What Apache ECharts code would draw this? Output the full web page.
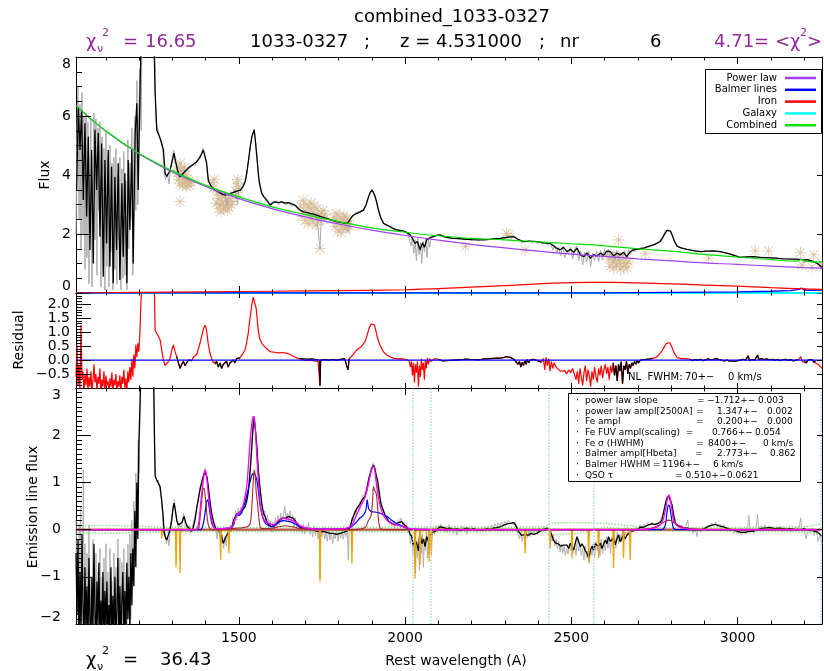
<!DOCTYPE html>
<html>
<head>
<meta charset="utf-8">
<script src="https://cdn.jsdelivr.net/npm/echarts@6.0.0/dist/echarts.min.js"></script>
<style>
  html, body { margin: 0; padding: 0; background: #ffffff; }
  #chart { width: 824px; height: 671px; }
</style>
</head>
<body>
<div id="chart"></div>
<script>
// ---------------------------------------------------------------
// Spectral decomposition of quasar 1033-0327 (z = 4.531)
// Three stacked panels sharing the rest-frame wavelength axis.
// ---------------------------------------------------------------
const X_MIN = 1010, X_MAX = 3254;

// axis ticks
const xMajorTicks = [1500, 2000, 2500, 3000];
const xMinorTicks = [1100, 1200, 1300, 1400, 1600, 1700, 1800, 1900, 2100, 2200, 2300, 2400,
                     2600, 2700, 2800, 2900, 3100, 3200];
const fluxTicks = [0, 2, 4, 6, 8];
const residTicks = [-0.5, 0, 0.5, 1.0, 1.5, 2.0];
const lineTicks = [-2, -1, 0, 1, 2, 3];

// ---- top panel: observed flux (smoothed) -------------------------
const fluxSmooth = [
 [1012,3.49],[1017,6.30],[1022,4.85],[1027,6.20],[1032,3.15],[1037,5.75],[1042,2.59],[1047,5.30],
 [1052,1.46],[1057,4.85],[1062,1.00],[1067,5.53],[1072,3.49],[1077,5.42],[1082,1.91],[1087,5.07],
 [1092,0.55],[1097,4.51],[1102,1.68],[1107,4.85],[1112,0.89],[1117,4.28],[1122,0.33],[1127,3.94],
 [1132,1.46],[1137,4.40],[1142,0.44],[1148,3.72],[1152,1.23],[1157,4.06],[1163,0.33],[1167,4.51],
 [1172,2.14],[1178,4.85],[1182,1.00],[1188,5.41],[1193,6.43],[1197,3.49],[1203,7.10],[1208,9.50],
 [1225,9.50],[1243,9.50],[1248,6.77],[1253,5.53],[1258,5.38],[1263,5.24],[1268,5.05],[1273,4.85],
 [1278,4.06],[1283,3.95],[1288,3.97],[1293,4.15],[1298,4.40],[1305,4.74],[1309,4.50],[1313,4.28],
 [1318,4.05],[1323,3.94],[1330,4.02],[1336,4.10],[1343,4.17],[1350,4.25],[1358,4.32],[1365,4.38],
 [1373,4.45],[1378,4.52],[1383,4.60],[1388,4.72],[1393,4.85],[1398,4.90],[1403,4.40],[1408,3.83],
 [1413,3.70],[1418,3.60],[1428,3.50],[1438,3.43],[1448,3.36],[1458,3.32],[1468,3.36],[1479,3.39],
 [1488,3.43],[1496,3.46],[1504,3.49],[1512,3.60],[1519,3.77],[1524,4.10],[1529,4.51],[1534,4.95],
 [1539,5.30],[1546,5.53],[1550,5.10],[1554,4.62],[1558,4.10],[1562,3.72],[1569,3.38],[1576,3.25],
 [1584,3.15],[1594,2.98],[1601,3.05],[1609,3.09],[1619,3.06],[1629,3.09],[1639,3.05],[1649,3.06],
 [1659,3.02],[1669,2.98],[1676,2.90],[1684,2.81],[1694,2.75],[1704,2.73],[1714,2.70],[1724,2.67],
 [1734,2.64],[1744,2.60],[1754,2.56],[1764,2.53],[1774,2.49],[1784,2.45],[1794,2.42],[1804,2.40],
 [1815,2.38],[1825,2.36],[1832,2.45],[1840,2.59],[1848,2.66],[1855,2.70],[1865,2.75],[1875,2.81],
 [1883,3.00],[1890,3.26],[1895,3.40],[1900,3.49],[1905,3.40],[1910,3.26],[1915,3.05],[1920,2.81],
 [1927,2.55],[1935,2.36],[1945,2.30],[1955,2.25],[1965,2.18],[1975,2.14],[1988,2.11],[2000,2.08],
 [2008,2.03],[2015,1.97],[2022,1.85],[2030,1.68],[2037,1.75],[2045,1.46],[2052,1.70],[2058,1.55],
 [2065,1.80],[2075,1.88],[2085,1.91],[2095,1.95],[2105,1.97],[2120,1.90],[2135,1.87],[2145,1.85],
 [2160,1.84],[2175,1.83],[2186,1.82],[2200,1.81],[2220,1.80],[2236,1.80],[2255,1.82],[2270,1.84],
 [2286,1.85],[2300,1.88],[2316,1.90],[2326,1.91],[2340,1.82],[2356,1.74],[2375,1.76],[2396,1.74],
 [2415,1.70],[2436,1.68],[2446,1.60],[2456,1.52],[2466,1.46],[2476,1.55],[2487,1.40],[2497,1.48],
 [2507,1.38],[2517,1.52],[2527,1.30],[2537,1.23],[2547,1.36],[2557,1.18],[2567,1.30],[2577,1.25],
 [2587,1.35],[2597,1.28],[2607,1.42],[2617,1.40],[2627,1.26],[2637,1.35],[2647,1.29],[2657,1.38],
 [2667,1.23],[2677,1.40],[2687,1.46],[2697,1.48],[2707,1.50],[2717,1.52],[2732,1.58],[2747,1.63],
 [2757,1.68],[2767,1.74],[2775,1.88],[2782,2.02],[2788,2.12],[2793,2.16],[2798,2.10],[2803,1.97],
 [2810,1.75],[2818,1.59],[2830,1.53],[2848,1.48],[2868,1.44],[2888,1.40],[2908,1.42],[2928,1.43],
 [2948,1.40],[2968,1.35],[2988,1.28],[3008,1.21],[3028,1.22],[3048,1.23],[3068,1.21],[3088,1.20],
 [3113,1.18],[3138,1.16],[3163,1.15],[3189,1.14],[3200,1.12],[3210,1.13],[3229,1.06],[3240,1.00],
 [3254,0.87]
];

// ---- top panel: observed flux (unsmoothed) -----------------------
const fluxRaw = [
 [1010,2.0],[1013,5.5],[1016,7.0],[1019,2.5],[1022,6.4],[1025,1.5],[1028,6.8],[1031,2.0],[1034,6.0],
 [1037,0.8],[1040,6.1],[1043,1.2],[1046,5.8],[1049,0.3],[1052,4.2],[1055,5.9],[1058,0.2],[1061,3.2],
 [1064,6.1],[1067,1.8],[1070,5.9],[1073,0.6],[1076,5.6],[1079,2.8],[1082,5.8],[1085,0.2],[1088,5.3],
 [1091,1.5],[1094,4.9],[1097,0.1],[1100,5.5],[1103,0.9],[1106,4.6],[1109,0.2],[1112,5.0],[1115,1.4],
 [1118,4.4],[1121,0.1],[1124,4.6],[1127,0.8],[1130,4.9],[1133,0.3],[1136,4.0],[1139,1.8],[1142,4.6],
 [1145,0.1],[1148,4.2],[1151,0.5],[1154,4.8],[1157,0.6],[1160,3.8],[1163,0.1],[1166,5.2],[1169,1.5],
 [1172,4.4],[1175,2.5],[1178,5.6],[1181,0.6],[1184,4.9],[1187,6.0],[1190,2.8],[1193,7.2],[1196,3.0],
 [1199,6.3],[1202,7.6],[1206,5.5],[1209,9.5],[1245,9.5],[1248,7.2],[1251,5.8],
 [1255,5.60],[1262,5.30],[1268,5.10],[1272,4.70],[1276,4.00],[1280,3.85],[1285,4.05],[1290,3.70],
 [1294,4.20],[1299,4.55],[1304,4.85],[1308,4.45],[1312,4.35],[1316,4.00],[1321,3.90],[1326,4.05],
 [1331,3.95],[1336,4.15],[1341,4.10],[1347,4.25],[1353,4.20],[1360,4.35],[1367,4.30],[1374,4.50],
 [1380,4.55],[1386,4.70],[1392,4.90],[1397,4.95],[1402,4.45],[1407,3.80],[1412,3.75],[1417,3.55],
 [1422,3.60],[1428,3.45],[1434,3.50],[1440,3.35],[1446,3.45],[1452,3.30],[1458,3.40],[1464,2.95],
 [1468,3.35],[1474,3.40],[1480,3.30],[1486,3.50],[1492,3.35],[1496,3.00],[1500,3.55],[1506,3.45],
 [1512,3.65],[1518,3.80],[1524,4.05],[1530,4.55],[1535,5.00],[1540,5.35],[1546,5.55],[1551,5.05],
 [1555,4.55],[1560,3.80],[1566,3.45],[1572,3.30],[1578,3.20],[1584,3.10],[1590,3.05],[1596,2.95],
 [1602,3.10],[1608,3.05],[1614,3.12],[1620,3.00],[1626,3.12],[1632,3.05],[1638,3.10],[1644,3.00],
 [1650,3.08],[1656,2.98],[1662,3.02],[1668,2.95],[1674,2.93],[1680,2.85],[1686,2.78],[1692,2.80],
 [1698,2.72],[1704,2.76],[1710,2.68],[1716,2.72],[1722,2.64],[1728,2.68],[1734,2.60],[1740,2.66],
 [1744,1.50],[1748,2.58],[1754,2.55],[1760,2.52],[1766,2.55],[1772,2.47],[1778,2.50],[1784,2.43],
 [1790,2.46],[1796,2.40],[1802,2.43],[1808,2.36],[1814,2.40],[1820,2.33],[1826,2.38],[1830,2.05],
 [1834,2.48],[1840,2.60],[1846,2.63],[1852,2.72],[1858,2.68],[1864,2.77],[1870,2.80],[1876,2.85],
 [1882,2.98],[1888,3.22],[1894,3.40],[1900,3.50],[1906,3.38],[1912,3.20],[1918,2.85],[1924,2.60],
 [1930,2.45],[1936,2.35],[1942,2.32],[1948,2.28],[1954,2.26],[1960,2.20],[1966,2.18],[1972,2.16],
 [1978,2.10],[1984,2.13],[1990,2.08],[1996,2.10],[2002,2.05],[2008,2.00],[2014,1.95],[2018,1.60],
 [2022,1.90],[2026,1.35],[2030,1.80],[2034,1.10],[2038,1.85],[2042,1.30],[2046,1.70],[2050,1.00],
 [2054,1.75],[2058,1.40],[2062,1.85],[2066,1.20],[2070,1.82],[2074,1.55],[2078,1.90],[2084,1.88],
 [2090,1.95],[2096,1.92],[2102,1.98],[2110,1.92],[2120,1.88],[2130,1.86],[2140,1.84],[2150,1.87],
 [2160,1.83],[2170,1.85],[2180,1.80],[2190,1.84],[2200,1.79],[2210,1.82],[2220,1.78],[2230,1.82],
 [2240,1.79],[2250,1.83],[2260,1.81],[2270,1.85],[2280,1.83],[2290,1.87],[2300,1.85],[2310,1.92],
 [2318,1.88],[2326,1.94],[2334,1.83],[2342,1.78],[2350,1.70],[2358,1.76],[2366,1.72],[2374,1.78],
 [2382,1.70],[2390,1.76],[2398,1.68],[2406,1.74],[2414,1.66],[2422,1.72],[2430,1.62],[2438,1.70],
 [2444,1.45],[2450,1.62],[2456,1.35],[2462,1.55],[2468,1.25],[2474,1.58],[2480,1.20],[2486,1.45],
 [2492,1.32],[2498,1.55],[2504,1.15],[2510,1.48],[2516,1.60],[2522,1.10],[2528,1.42],[2534,0.95],
 [2540,1.38],[2546,1.05],[2552,1.42],[2558,0.90],[2564,1.35],[2570,1.10],[2576,1.42],[2582,1.05],
 [2588,1.45],[2594,1.12],[2600,1.50],[2606,1.20],[2612,1.48],[2618,1.15],[2624,1.40],[2630,1.05],
 [2636,1.45],[2642,1.10],[2648,1.38],[2654,1.22],[2660,1.42],[2666,1.15],[2672,1.45],[2678,1.30],
 [2684,1.50],[2690,1.38],[2696,1.52],[2702,1.45],[2710,1.55],[2718,1.50],[2726,1.58],[2734,1.55],
 [2742,1.62],[2750,1.64],[2758,1.70],[2766,1.76],[2774,1.90],[2780,2.05],[2786,2.14],[2792,2.18],
 [2798,2.12],[2804,1.95],[2810,1.78],[2816,1.62],[2824,1.55],[2834,1.52],[2844,1.48],[2854,1.46],
 [2864,1.44],[2874,1.38],[2884,1.42],[2894,1.40],[2904,1.43],[2914,1.41],[2924,1.45],[2934,1.42],
 [2944,1.40],[2954,1.38],[2964,1.35],[2974,1.33],[2984,1.28],[2994,1.25],[3004,1.20],[3014,1.23],
 [3024,1.21],[3034,1.24],[3044,1.22],[3054,1.24],[3064,1.20],[3074,1.22],[3084,1.19],[3094,1.21],
 [3104,1.18],[3114,1.20],[3124,1.16],[3134,1.18],[3144,1.15],[3154,1.17],[3164,1.14],[3174,1.16],
 [3184,1.13],[3194,1.15],[3200,1.02],[3206,1.14],[3214,1.10],[3222,1.06],[3230,1.09],[3238,0.98],
 [3246,1.02],[3250,0.80],[3254,0.85]
];

// ---- top panel: flux points inside the continuum windows ---------
const windowFlux = [
 [1314,4.05],[1316,4.30],[1318,3.85],[1320,4.15],[1322,3.70],[1324,4.40],[1326,3.95],[1328,4.20],
 [1330,3.65],[1332,4.10],[1334,3.90],[1336,4.25],[1338,3.75],[1340,4.00],[1342,3.60],[1344,3.85],
 [1347,3.70],[1350,3.80],[1353,3.65],[1356,3.75],[1323,3.10],
 [1420,3.75],[1423,3.55],[1426,3.85],[1432,3.05],[1435,3.35],[1438,2.85],[1440,3.20],[1443,3.00],
 [1446,2.75],[1448,3.30],[1451,3.05],[1454,2.85],[1456,3.25],[1459,2.95],[1462,3.15],[1465,2.80],
 [1468,3.10],[1471,2.90],[1474,3.20],[1477,3.00],[1480,3.10],
 [1490,3.45],[1493,3.70],[1496,3.85],[1499,3.60],[1495,3.40],
 [1686,2.95],[1690,2.60],[1693,3.15],[1696,2.80],[1699,2.45],[1702,3.00],[1705,2.70],[1708,2.35],
 [1711,2.90],[1714,2.55],[1717,3.05],[1720,2.75],[1723,2.40],[1726,2.95],[1729,2.65],[1732,2.30],
 [1735,2.85],[1738,2.60],[1741,2.45],[1744,1.51],[1747,2.70],[1750,2.55],[1753,2.80],[1756,2.50],
 [1759,2.65],
 [1786,2.55],[1789,2.25],[1792,2.70],[1795,2.40],[1798,2.10],[1801,2.60],[1804,2.35],[1807,2.05],
 [1810,2.50],[1813,2.20],[1816,2.65],[1819,2.40],[1822,2.15],[1825,2.55],[1828,2.30],[1831,2.45],
 [1834,2.25],
 [2181,1.57],[2305,2.02],[2310,1.95],[2361,1.46],
 [2612,1.15],[2616,0.90],[2620,1.30],[2624,1.05],[2628,0.85],[2632,1.20],[2636,0.95],[2640,1.25],
 [2644,1.00],[2648,0.80],[2652,1.10],[2656,0.90],[2660,1.20],[2664,1.00],[2668,0.85],[2672,1.05],
 [2642,1.80],[2722,1.35],[2913,1.18],[3053,1.43],[3093,1.43],
 [3189,1.37],[3194,0.95],[3224,0.87],[3229,1.29],[3254,1.01]
];

// ---- top panel: continuum model components -----------------------
const powerLaw = [
 [1010,6.35],[1100,5.48],[1200,4.71],[1300,4.10],[1400,3.61],[1500,3.20],[1600,2.86],[1700,2.58],
 [1800,2.34],[1900,2.13],[2000,1.95],[2100,1.79],[2200,1.65],[2300,1.53],[2400,1.42],[2500,1.32],
 [2600,1.24],[2700,1.16],[2800,1.09],[2900,1.02],[3000,0.97],[3100,0.91],[3200,0.86],[3254,0.84]
];
const balmerCont = [
 [1010,0],[2600,0],[2800,0.02],[3000,0.04],[3100,0.06],[3160,0.08],[3185,0.12],[3192,0.17],
 [3200,0.11],[3215,0.09],[3254,0.10]
];
const ironCont = [
 [1010,0.00],[1200,0.02],[1400,0.04],[1600,0.06],[1800,0.08],[2000,0.11],[2100,0.15],[2200,0.20],
 [2300,0.25],[2400,0.31],[2500,0.35],[2560,0.36],[2620,0.36],[2700,0.34],[2800,0.31],[2900,0.27],
 [3000,0.23],[3100,0.18],[3200,0.14],[3254,0.12]
];
const galaxyCont = [[1010,0],[3254,0]];
const combinedCont = [
 [1010,6.35],[1100,5.49],[1200,4.73],[1300,4.14],[1400,3.65],[1500,3.26],[1600,2.92],[1700,2.66],
 [1800,2.42],[1900,2.21],[2000,2.06],[2100,1.94],[2200,1.85],[2300,1.80],[2400,1.73],[2500,1.67],
 [2600,1.60],[2700,1.50],[2800,1.42],[2900,1.31],[3000,1.22],[3100,1.13],[3180,1.08],[3192,1.14],
 [3205,1.07],[3254,1.05]
];

// ---- middle panel: residual ---------------------------------------
const residual = [
 [1010,-0.60],[1013,0.55],[1016,-0.90],[1019,-0.20],[1022,-1.10],[1025,1.25],[1028,-0.70],[1031,-0.40],
 [1034,-1.20],[1037,-0.50],[1040,-0.90],[1043,-0.30],[1046,-1.10],[1049,-0.60],[1052,-0.95],[1055,-0.40],
 [1058,-1.20],[1061,-0.70],[1064,-0.15],[1067,-0.80],[1070,-0.50],[1073,-1.10],[1076,-0.60],[1079,-0.85],
 [1082,-0.30],[1085,-1.20],[1088,-0.70],[1091,-0.95],[1094,-0.40],[1097,-1.15],[1100,-0.55],[1103,-0.90],
 [1106,-0.75],[1109,-1.20],[1112,-0.65],[1115,-0.95],[1118,-0.45],[1121,-1.15],[1124,-0.70],[1127,-0.90],
 [1130,-0.50],[1133,-1.10],[1136,-0.75],[1139,-0.95],[1142,-0.55],[1145,-1.15],[1148,-0.60],[1151,-0.85],
 [1154,-0.35],[1157,-1.00],[1160,-0.65],[1163,-1.15],[1166,-0.40],[1169,-0.80],[1172,-0.25],[1175,-0.70],
 [1178,0.05],[1181,-0.60],[1184,0.20],[1187,-0.30],[1190,0.55],[1193,0.10],[1196,0.60],[1199,0.30],
 [1202,0.90],[1205,2.00],[1208,2.60],[1243,2.60],[1246,2.30],[1248,1.08],[1253,0.95],[1258,0.85],
 [1263,0.72],[1268,0.35],[1273,0.00],[1278,-0.20],[1283,-0.24],[1288,-0.05],[1293,0.06],[1298,0.35],
 [1303,0.54],[1308,0.30],[1313,0.12],[1318,-0.10],[1323,-0.30],[1328,-0.15],[1333,-0.05],[1338,-0.20],
 [1343,-0.10],[1348,0.00],[1353,0.05],[1358,-0.02],[1363,0.10],[1368,0.08],[1373,0.20],[1378,0.40],
 [1383,0.60],[1388,0.85],[1393,1.10],[1398,1.25],[1401,1.15],[1404,0.95],[1408,0.55],[1413,0.25],
 [1418,0.05],[1423,-0.10],[1428,-0.15],[1433,-0.05],[1438,-0.25],[1443,-0.10],[1448,-0.30],[1453,-0.15],
 [1458,-0.20],[1463,-0.05],[1468,-0.25],[1473,-0.10],[1478,-0.15],[1483,0.00],[1488,-0.10],[1493,0.05],
 [1498,0.00],[1503,0.08],[1508,0.15],[1513,0.25],[1518,0.35],[1523,0.60],[1528,0.95],[1533,1.45],
 [1538,1.90],[1543,2.25],[1546,2.32],[1549,2.20],[1552,1.85],[1555,1.45],[1558,1.10],[1561,0.85],
 [1565,0.70],[1570,0.58],[1576,0.50],[1582,0.42],[1588,0.38],[1594,0.30],[1600,0.32],[1606,0.28],
 [1612,0.30],[1618,0.26],[1624,0.30],[1630,0.27],[1636,0.30],[1642,0.25],[1648,0.27],[1654,0.20],
 [1660,0.18],[1666,0.12],[1672,0.10],[1678,0.06],[1684,0.05],[1690,0.02],[1696,0.04],[1702,-0.02],
 [1708,0.03],[1714,0.00],[1720,0.04],[1726,-0.03],[1732,0.02],[1738,-0.05],[1742,0.00],[1744,-0.92],
 [1746,0.00],[1752,-0.03],[1758,0.02],[1764,-0.05],[1770,0.00],[1776,-0.04],[1782,0.02],[1788,-0.03],
 [1794,0.00],[1800,-0.02],[1806,0.03],[1812,-0.02],[1818,0.05],[1824,0.02],[1828,-0.35],[1832,0.05],
 [1838,0.12],[1844,0.20],[1850,0.30],[1856,0.38],[1862,0.42],[1868,0.48],[1874,0.55],[1880,0.68],
 [1886,0.90],[1892,1.15],[1898,1.30],[1903,1.37],[1908,1.25],[1913,1.00],[1918,0.75],[1924,0.55],
 [1930,0.40],[1936,0.28],[1942,0.20],[1948,0.15],[1954,0.12],[1960,0.08],[1966,0.06],[1972,0.05],
 [1978,0.04],[1984,0.02],[1990,0.05],[1996,0.00],[2002,0.02],[2008,-0.05],[2012,-0.02],[2016,-0.25],
 [2019,-0.05],[2022,-0.55],[2025,-0.10],[2028,-0.80],[2031,-0.15],[2034,-0.45],[2037,-0.05],[2040,-0.95],
 [2043,-0.20],[2046,-0.60],[2049,0.05],[2052,-0.35],[2055,-0.10],[2058,-0.70],[2061,0.00],[2064,-0.30],
 [2067,0.08],[2070,-0.15],[2074,0.05],[2078,-0.05],[2082,0.00],[2088,0.05],[2094,-0.02],[2100,0.03],
 [2106,0.00],[2112,-0.03],[2118,0.02],[2124,-0.02],[2130,0.03],[2136,-0.01],[2142,0.02],[2148,0.00],
 [2154,0.04],[2160,0.01],[2166,0.05],[2172,0.02],[2178,0.00],[2184,0.03],[2190,-0.02],[2196,0.02],
 [2202,-0.01],[2208,0.02],[2214,0.04],[2220,0.01],[2226,0.05],[2232,0.03],[2238,0.06],[2244,0.04],
 [2250,0.08],[2256,0.05],[2262,0.09],[2268,0.06],[2274,0.10],[2280,0.07],[2286,0.11],[2292,0.08],
 [2298,0.10],[2304,0.12],[2310,0.08],[2316,0.10],[2322,0.06],[2328,0.02],[2334,-0.05],[2340,-0.15],
 [2344,-0.05],[2348,-0.25],[2352,-0.08],[2356,-0.20],[2360,-0.02],[2364,-0.15],[2368,0.02],[2372,-0.10],
 [2376,0.00],[2380,-0.05],[2386,0.03],[2392,0.05],[2398,-0.02],[2404,0.02],[2410,-0.08],[2416,0.05],
 [2420,-0.35],[2424,0.10],[2428,-0.20],[2432,0.05],[2436,-0.40],[2440,-0.05],[2444,-0.30],[2448,-0.10],
 [2452,-0.20],[2456,-0.28],[2462,-0.35],[2468,-0.40],[2474,-0.45],[2480,-0.38],[2486,-0.50],[2492,-0.35],
 [2498,-0.45],[2504,-0.30],[2510,-0.55],[2514,-0.70],[2518,-0.40],[2522,-0.85],[2526,-0.30],[2530,-0.60],
 [2534,-0.90],[2538,-0.45],[2542,-0.20],[2546,-0.75],[2550,-0.35],[2554,-0.55],[2558,-0.95],[2562,-0.40],
 [2566,-0.70],[2570,-0.25],[2574,-0.60],[2578,-0.80],[2582,-0.30],[2586,-0.55],[2590,-0.20],[2594,-0.65],
 [2598,-0.35],[2602,-0.15],[2606,-0.50],[2610,-0.25],[2614,-0.70],[2618,-0.20],[2622,-0.45],[2626,-0.10],
 [2630,-0.55],[2634,-0.20],[2638,-0.75],[2642,-0.15],[2646,-0.40],[2650,-0.05],[2654,-0.85],[2658,-0.20],
 [2662,-0.35],[2666,-0.05],[2670,-0.50],[2674,-0.15],[2678,-0.30],[2682,-0.10],[2686,-0.20],[2690,-0.05],
 [2694,-0.15],[2698,-0.02],[2702,-0.10],[2708,0.00],[2714,-0.05],[2720,0.02],[2726,0.05],[2732,0.03],
 [2738,0.08],[2744,0.06],[2750,0.12],[2756,0.10],[2762,0.18],[2768,0.25],[2774,0.35],[2780,0.48],
 [2786,0.60],[2791,0.66],[2796,0.62],[2801,0.50],[2806,0.35],[2812,0.20],[2818,0.10],[2824,0.06],
 [2830,0.05],[2836,0.02],[2842,0.05],[2848,0.00],[2856,0.03],[2864,-0.02],[2872,0.02],[2880,0.00],
 [2888,0.03],[2896,-0.02],[2904,0.01],[2912,0.04],[2920,0.01],[2928,0.03],[2936,0.05],[2944,0.02],
 [2952,0.00],[2960,-0.03],[2968,0.00],[2976,-0.04],[2984,-0.02],[2992,-0.05],[3000,-0.02],[3008,0.00],
 [3016,0.03],[3024,0.00],[3032,0.15],[3036,-0.02],[3044,0.02],[3052,0.00],[3060,0.18],[3064,0.02],
 [3072,0.05],[3080,0.02],[3088,0.04],[3096,0.01],[3104,0.03],[3112,0.00],[3120,0.02],[3128,-0.02],
 [3136,0.01],[3144,0.03],[3152,-0.01],[3160,0.02],[3168,-0.03],[3176,0.00],[3184,0.02],[3190,0.12],
 [3194,-0.05],[3200,-0.02],[3206,-0.10],[3212,0.00],[3218,-0.05],[3224,0.02],[3230,-0.08],[3236,-0.02],
 [3242,-0.15],[3248,-0.10],[3254,-0.30]
];
// wavelength ranges used as continuum fitting windows
const fitWindows = [[1313,1360],[1425,1506],[1680,1836],[2098,2410],[2626,2745],[2855,3185],[3195,3240]];

// ---- bottom panel: emission-line flux -----------------------------
const lineSmooth = [
 [1010,-0.5],[1013,-1.8],[1016,-0.2],[1019,-2.4],[1022,-0.9],[1025,-2.2],[1028,-0.1],[1031,-1.6],
 [1034,-2.5],[1037,-0.8],[1040,-2.1],[1043,-1.2],[1046,-2.5],[1049,-0.6],[1052,-1.9],[1055,-2.4],
 [1058,-1.0],[1061,-2.2],[1064,-0.3],[1067,-1.7],[1070,-2.5],[1073,-1.1],[1076,-2.0],[1079,-0.7],
 [1082,-2.4],[1085,-1.5],[1088,-2.2],[1091,-0.9],[1094,-2.5],[1097,-1.3],[1100,-2.0],[1103,-1.1],
 [1106,-2.4],[1109,-1.6],[1112,-2.1],[1115,-0.8],[1118,-2.5],[1121,-1.4],[1124,-2.2],[1127,-1.0],
 [1130,-2.4],[1133,-1.7],[1136,-0.6],[1139,-2.3],[1142,-1.2],[1145,-2.5],[1148,-1.5],[1151,-0.9],
 [1154,-2.2],[1157,-1.3],[1160,-2.4],[1163,-0.7],[1166,-1.9],[1169,-1.0],[1172,-2.2],[1175,-0.5],
 [1178,-1.6],[1181,-0.4],[1184,-1.2],[1187,0.4],[1190,-0.8],[1193,1.0],[1196,-0.2],[1199,1.8],
 [1202,2.5],[1206,3.5],[1243,3.5],[1246,2.0],[1248,1.13],[1253,1.05],[1258,0.98],[1263,0.91],
 [1268,0.60],[1272,0.30],[1275,-0.05],[1278,-0.15],[1283,-0.22],[1288,-0.26],[1293,0.00],[1298,0.20],
 [1302,0.45],[1305,0.56],[1309,0.40],[1313,0.20],[1318,0.10],[1323,0.06],[1329,0.15],[1335,0.28],
 [1340,0.15],[1345,0.06],[1352,0.02],[1358,-0.04],[1363,0.05],[1368,0.20],[1373,0.45],[1378,0.65],
 [1383,0.84],[1388,1.00],[1393,1.13],[1397,1.22],[1400,1.26],[1404,1.12],[1408,0.91],[1413,0.60],
 [1418,0.35],[1423,0.18],[1428,0.06],[1433,0.00],[1438,-0.04],[1443,-0.04],[1448,-0.15],[1453,-0.29],
 [1458,-0.20],[1463,-0.12],[1468,-0.08],[1474,0.00],[1479,0.06],[1484,0.18],[1489,0.28],[1494,0.31],
 [1500,0.35],[1506,0.38],[1512,0.42],[1519,0.49],[1524,0.62],[1529,0.84],[1534,1.25],[1539,1.76],
 [1543,2.20],[1546,2.36],[1550,2.10],[1554,1.76],[1558,1.30],[1564,0.84],[1570,0.50],[1574,0.35],
 [1580,0.25],[1584,0.17],[1590,0.10],[1599,0.06],[1606,0.10],[1614,0.13],[1620,0.18],[1624,0.20],
 [1632,0.25],[1640,0.24],[1649,0.28],[1656,0.26],[1664,0.24],[1670,0.18],[1676,0.10],[1684,0.05],
 [1694,0.03],[1704,0.01],[1714,0.00],[1724,-0.01],[1734,-0.03],[1744,-0.05],[1754,-0.04],[1764,-0.06],
 [1774,-0.08],[1784,-0.08],[1794,-0.10],[1804,-0.08],[1810,-0.08],[1818,-0.05],[1825,-0.03],[1829,-0.01],
 [1835,0.06],[1840,0.20],[1845,0.30],[1850,0.38],[1855,0.45],[1860,0.49],[1865,0.55],[1870,0.62],
 [1875,0.66],[1880,0.72],[1885,0.85],[1890,1.05],[1895,1.18],[1900,1.30],[1905,1.37],[1909,1.30],
 [1913,1.15],[1917,1.05],[1922,0.80],[1926,0.60],[1930,0.49],[1936,0.38],[1940,0.30],[1945,0.24],
 [1950,0.18],[1955,0.15],[1960,0.13],[1965,0.13],[1970,0.10],[1975,0.12],[1980,0.15],[1985,0.16],
 [1990,0.17],[1995,0.12],[2000,0.08],[2005,0.06],[2010,0.00],[2015,-0.10],[2020,-0.15],[2025,-0.35],
 [2030,-0.22],[2035,-0.29],[2040,-0.45],[2045,-0.08],[2050,-0.30],[2055,-0.20],[2060,-0.36],[2065,-0.15],
 [2070,-0.25],[2075,-0.11],[2082,-0.06],[2090,-0.04],[2098,0.02],[2105,0.06],[2115,0.04],[2125,0.02],
 [2135,0.03],[2145,0.00],[2155,0.02],[2166,-0.01],[2176,0.01],[2186,0.03],[2196,0.00],[2206,0.02],
 [2216,-0.01],[2226,0.00],[2236,-0.01],[2246,0.02],[2256,0.00],[2266,0.03],[2276,0.04],[2286,0.06],
 [2296,0.09],[2306,0.12],[2316,0.13],[2326,0.15],[2332,0.10],[2336,0.06],[2342,-0.05],[2350,-0.12],
 [2356,-0.15],[2362,-0.10],[2370,-0.12],[2378,-0.08],[2386,-0.10],[2396,-0.08],[2406,-0.03],[2416,0.00],
 [2426,0.03],[2432,0.02],[2438,-0.05],[2446,-0.22],[2452,-0.28],[2460,-0.30],[2468,-0.35],[2476,-0.33],
 [2482,-0.30],[2487,-0.33],[2492,-0.40],[2497,-0.29],[2502,-0.36],[2507,-0.43],[2512,-0.28],[2517,-0.15],
 [2522,-0.25],[2527,-0.36],[2532,-0.30],[2537,-0.36],[2542,-0.45],[2547,-0.50],[2552,-0.61],[2557,-0.45],
 [2562,-0.35],[2567,-0.43],[2572,-0.30],[2577,-0.26],[2582,-0.36],[2587,-0.28],[2592,-0.40],[2597,-0.36],
 [2602,-0.22],[2607,-0.30],[2612,-0.15],[2617,-0.25],[2622,-0.29],[2627,-0.18],[2632,-0.32],[2637,-0.20],
 [2642,-0.11],[2647,-0.26],[2652,-0.18],[2657,-0.11],[2662,-0.20],[2667,-0.12],[2672,-0.10],[2677,-0.05],
 [2687,-0.02],[2697,-0.01],[2707,0.05],[2712,0.06],[2717,0.05],[2722,0.08],[2732,0.10],[2742,0.12],
 [2752,0.11],[2760,0.13],[2767,0.15],[2772,0.20],[2777,0.35],[2782,0.52],[2787,0.66],[2793,0.72],
 [2798,0.62],[2803,0.52],[2808,0.30],[2813,0.13],[2820,0.08],[2830,0.06],[2840,0.03],[2848,0.03],
 [2860,0.00],[2870,-0.02],[2880,-0.01],[2888,-0.01],[2900,0.02],[2910,0.06],[2920,0.09],[2933,0.11],
 [2945,0.08],[2958,0.06],[2970,0.02],[2988,-0.01],[3000,-0.04],[3010,-0.06],[3023,-0.06],[3035,-0.04],
 [3048,-0.03],[3058,-0.01],[3070,0.02],[3080,0.03],[3098,0.04],[3110,0.02],[3124,0.03],[3138,0.02],
 [3148,0.01],[3160,0.02],[3175,0.00],[3189,0.00],[3200,0.02],[3210,-0.01],[3220,-0.01],[3230,-0.03],
 [3240,-0.05],[3248,-0.10],[3254,-0.15]
];
const lineRaw = [
 [1010,0.2],[1012,-1.5],[1014,-0.4],[1017,-2.5],[1019,0.1],[1022,-1.2],[1024,0.5],[1027,-2.3],
 [1030,-0.6],[1032,1.27],[1034,-1.9],[1037,-0.3],[1040,-2.5],[1043,-0.5],[1046,-1.8],[1049,0.1],
 [1052,-2.5],[1055,-1.0],[1058,-2.2],[1061,-0.2],[1064,-1.4],[1067,-2.5],[1070,-0.5],[1073,-1.9],
 [1076,-0.9],[1079,-2.5],[1082,-0.4],[1085,-2.0],[1088,-1.0],[1091,-2.5],[1094,-0.6],[1097,-1.8],
 [1100,-0.3],[1103,-2.5],[1106,-0.9],[1109,-2.2],[1112,-0.4],[1115,-2.0],[1118,-1.1],[1121,-2.5],
 [1124,-0.5],[1127,-1.9],[1130,-0.8],[1133,-2.5],[1136,-0.2],[1139,-1.7],[1142,-0.6],[1145,-2.4],
 [1148,-0.7],[1151,-2.0],[1154,-0.4],[1157,-2.5],[1160,-0.9],[1163,-2.2],[1166,-0.3],[1169,-1.5],
 [1172,-0.1],[1175,-1.9],[1178,0.2],[1181,-1.0],[1184,0.6],[1187,-0.5],[1190,1.2],[1193,0.3],
 [1197,1.9],[1200,1.2],[1203,2.8],[1206,3.5],[1243,3.5],[1246,1.8],[1249,1.20],[1253,1.00],
 [1257,1.05],[1261,0.90],[1266,0.70],[1270,0.35],[1274,-0.10],[1278,-0.05],[1282,-0.30],[1286,-0.15],
 [1290,-0.35],[1294,0.05],[1298,0.30],[1302,0.50],[1306,0.62],[1310,0.35],[1314,0.15],[1318,0.02],
 [1322,0.12],[1326,-0.05],[1330,0.20],[1334,0.35],[1338,0.10],[1342,0.05],[1346,-0.05],[1350,0.10],
 [1354,-0.08],[1358,0.00],[1362,0.12],[1366,0.15],[1370,0.35],[1374,0.50],[1378,0.60],[1382,0.90],
 [1386,0.95],[1390,1.10],[1394,1.15],[1398,1.30],[1402,1.15],[1406,0.95],[1410,0.75],[1414,0.50],
 [1418,0.30],[1422,0.25],[1426,0.02],[1430,0.10],[1434,-0.20],[1438,0.05],[1442,-0.15],[1446,-0.30],
 [1450,-0.10],[1454,-0.40],[1458,-0.15],[1462,-0.35],[1466,0.00],[1470,-0.20],[1474,0.10],[1478,-0.05],
 [1482,0.25],[1486,0.10],[1490,0.40],[1494,0.20],[1498,0.45],[1502,0.30],[1506,0.48],[1510,0.32],
 [1514,0.50],[1518,0.45],[1522,0.70],[1526,0.65],[1530,0.95],[1534,1.30],[1538,1.80],[1542,2.25],
 [1546,2.40],[1550,2.05],[1554,1.70],[1558,1.20],[1562,0.95],[1566,0.65],[1570,0.45],[1574,0.30],
 [1578,0.40],[1582,0.15],[1586,0.30],[1590,0.05],[1594,0.20],[1598,-0.05],[1602,0.15],[1606,0.00],
 [1610,0.25],[1614,0.05],[1618,0.30],[1622,0.10],[1626,0.35],[1630,0.15],[1634,0.30],[1638,0.50],
 [1642,0.20],[1646,0.35],[1650,0.15],[1654,0.40],[1658,0.20],[1662,0.30],[1666,0.05],[1670,0.25],
 [1674,0.00],[1678,0.15],[1682,-0.05],[1686,0.10],[1690,-0.08],[1694,0.12],[1698,-0.10],[1702,0.08],
 [1706,-0.05],[1710,0.15],[1714,-0.10],[1718,0.05],[1722,-0.15],[1726,0.08],[1730,-0.12],[1734,0.02],
 [1738,-0.20],[1742,0.00],[1744,-1.05],[1746,-0.05],[1750,-0.15],[1754,0.05],[1758,-0.20],[1762,-0.05],
 [1766,-0.25],[1770,0.00],[1774,-0.22],[1778,-0.05],[1782,-0.30],[1786,-0.08],[1790,-0.20],[1794,0.02],
 [1798,-0.25],[1802,-0.05],[1806,-0.18],[1810,0.00],[1814,-0.20],[1818,-0.02],[1822,-0.15],[1826,0.05],
 [1829,-0.65],[1832,0.10],[1836,0.05],[1840,0.25],[1844,0.15],[1848,0.40],[1852,0.30],[1856,0.50],
 [1860,0.42],[1864,0.58],[1868,0.55],[1872,0.70],[1876,0.68],[1880,0.80],[1884,0.90],[1888,1.00],
 [1892,1.15],[1896,1.25],[1900,1.35],[1904,1.40],[1908,1.30],[1912,1.15],[1916,0.95],[1920,0.80],
 [1924,0.65],[1928,0.50],[1932,0.45],[1936,0.35],[1940,0.30],[1944,0.20],[1948,0.25],[1952,0.12],
 [1956,0.20],[1960,0.08],[1964,0.18],[1968,0.05],[1972,0.15],[1976,0.10],[1980,0.22],[1984,0.12],
 [1988,0.25],[1992,0.10],[1996,0.15],[2000,0.02],[2004,0.10],[2008,-0.05],[2012,0.05],[2016,-0.30],
 [2020,-0.10],[2024,-0.55],[2028,-0.20],[2031,-0.92],[2034,-0.30],[2037,-0.60],[2040,-0.15],[2043,-0.85],
 [2046,-0.25],[2049,-0.50],[2052,-0.10],[2055,-0.80],[2058,-0.20],[2061,-0.45],[2064,0.05],[2067,-0.60],
 [2070,-0.10],[2073,-0.35],[2076,0.00],[2080,-0.20],[2084,0.05],[2088,-0.10],[2092,0.08],[2096,-0.05],
 [2100,0.10],[2104,0.00],[2108,0.12],[2112,-0.02],[2116,0.08],[2120,-0.05],[2124,0.06],[2128,-0.06],
 [2132,0.10],[2136,-0.04],[2140,0.05],[2146,-0.08],[2150,0.06],[2156,-0.12],[2160,0.04],[2166,-0.05],
 [2170,0.08],[2176,-0.02],[2180,0.06],[2186,-0.10],[2190,0.05],[2196,-0.03],[2200,0.08],[2206,-0.04],
 [2210,0.05],[2216,-0.06],[2220,0.04],[2226,-0.05],[2230,0.06],[2236,-0.03],[2240,0.07],[2246,0.00],
 [2250,0.08],[2256,-0.02],[2260,0.10],[2266,0.02],[2270,0.12],[2276,0.05],[2280,0.14],[2286,0.08],
 [2290,0.16],[2296,0.10],[2300,0.18],[2306,0.12],[2310,0.20],[2316,0.14],[2320,0.18],[2326,0.10],
 [2330,0.15],[2336,0.00],[2340,-0.10],[2344,-0.20],[2348,-0.05],[2352,-0.25],[2356,-0.10],[2360,-0.22],
 [2364,-0.05],[2368,-0.18],[2372,-0.02],[2376,-0.15],[2380,0.00],[2386,-0.12],[2392,0.02],[2398,-0.10],
 [2404,0.04],[2410,-0.05],[2416,0.06],[2422,-0.02],[2428,0.05],[2434,-0.08],[2438,0.00],[2442,-0.25],
 [2446,-0.10],[2450,-0.35],[2454,-0.20],[2458,-0.40],[2462,-0.25],[2466,-0.48],[2470,-0.30],[2474,-0.50],
 [2478,-0.35],[2482,-0.55],[2486,-0.40],[2490,-0.52],[2494,-0.30],[2498,-0.45],[2502,-0.25],[2506,-0.50],
 [2510,-0.30],[2514,-0.55],[2518,-0.20],[2522,-0.45],[2526,-0.30],[2530,-0.55],[2534,-0.40],[2538,-0.65],
 [2542,-0.35],[2546,-0.60],[2550,-0.45],[2554,-0.72],[2558,-0.40],[2562,-0.55],[2566,-0.30],[2570,-0.60],
 [2574,-0.25],[2578,-0.45],[2582,-0.30],[2586,-0.55],[2590,-0.20],[2594,-0.50],[2598,-0.25],[2602,-0.45],
 [2606,-0.15],[2610,-0.40],[2614,-0.20],[2618,-0.50],[2622,-0.15],[2626,-0.35],[2630,-0.10],[2634,-0.40],
 [2638,-0.05],[2642,-0.30],[2646,-0.10],[2650,-0.25],[2654,0.00],[2658,-0.20],[2662,-0.05],[2666,-0.15],
 [2670,0.05],[2676,-0.10],[2682,0.02],[2688,-0.05],[2694,0.05],[2700,-0.02],[2706,0.10],[2712,0.02],
 [2718,0.12],[2724,0.05],[2730,0.15],[2736,0.08],[2742,0.16],[2748,0.10],[2754,0.14],[2760,0.12],
 [2766,0.18],[2772,0.25],[2778,0.40],[2784,0.58],[2790,0.70],[2796,0.68],[2802,0.50],[2808,0.30],
 [2814,0.15],[2820,0.10],[2826,0.05],[2832,0.10],[2838,-0.02],[2844,0.06],[2850,0.20],[2854,-0.05],
 [2860,0.05],[2866,-0.08],[2872,0.04],[2878,-0.15],[2882,0.02],[2890,-0.06],[2896,0.05],[2902,-0.02],
 [2910,0.10],[2916,0.05],[2922,0.14],[2928,0.08],[2934,0.15],[2940,0.06],[2946,0.12],[2952,0.03],
 [2958,0.10],[2964,0.00],[2970,0.05],[2976,-0.05],[2982,0.03],[2988,-0.08],[2994,0.00],[3000,-0.10],
 [3006,-0.03],[3012,-0.12],[3018,-0.02],[3024,-0.10],[3030,0.00],[3034,0.30],[3038,-0.05],[3044,0.02],
 [3050,-0.08],[3056,0.05],[3060,0.32],[3064,-0.02],[3070,0.08],[3076,-0.02],[3082,0.10],[3088,0.00],
 [3094,0.08],[3100,-0.03],[3106,0.06],[3112,-0.02],[3118,0.05],[3124,0.00],[3130,0.06],[3136,-0.04],
 [3142,0.05],[3148,-0.02],[3154,0.04],[3160,-0.05],[3166,0.03],[3172,-0.03],[3178,0.05],[3184,-0.02],
 [3190,0.25],[3194,-0.05],[3200,0.02],[3206,-0.20],[3212,0.00],[3218,-0.06],[3224,0.04],[3230,-0.12],
 [3236,0.00],[3242,-0.25],[3248,-0.10],[3254,-0.30]
];

// ---- bottom panel: line-profile fit --------------------------------
const fitTotal = [
 [1010,0],[1370,0],[1375,0.03],[1380,0.18],[1385,0.55],[1390,0.88],[1395,1.15],[1398,1.26],[1401,1.22],
 [1404,1.05],[1408,0.75],[1413,0.45],[1418,0.20],[1423,0.08],[1428,0.03],[1435,0.02],[1450,0.02],
 [1465,0.03],[1478,0.05],[1484,0.13],[1490,0.26],[1494,0.31],[1500,0.36],[1506,0.40],[1512,0.50],
 [1519,0.72],[1524,0.95],[1529,1.40],[1534,1.90],[1539,2.25],[1543,2.40],[1546,2.38],[1550,2.05],
 [1554,1.55],[1559,1.00],[1564,0.56],[1569,0.35],[1575,0.22],[1584,0.15],[1594,0.12],[1604,0.10],
 [1614,0.16],[1624,0.22],[1634,0.24],[1644,0.23],[1654,0.21],[1664,0.18],[1674,0.14],[1684,0.08],
 [1694,0.05],[1704,0.03],[1714,0.02],[1734,0.01],[1774,0.01],[1814,0.02],[1830,0.04],[1840,0.10],
 [1850,0.24],[1860,0.40],[1870,0.55],[1878,0.66],[1884,0.80],[1890,0.98],[1895,1.15],[1900,1.28],
 [1905,1.34],[1909,1.25],[1913,1.00],[1917,0.80],[1922,0.60],[1927,0.45],[1935,0.30],[1945,0.20],
 [1955,0.15],[1965,0.12],[1975,0.10],[1985,0.08],[1995,0.06],[2005,0.04],[2015,0.02],[2030,0.01],
 [2100,0],[2700,0],[2740,0.02],[2760,0.06],[2770,0.12],[2778,0.25],[2784,0.45],[2789,0.65],[2793,0.73],
 [2797,0.68],[2802,0.45],[2806,0.25],[2812,0.13],[2820,0.07],[2830,0.04],[2845,0.02],[2870,0],[3254,0]
];
const fitBroad = [
 [1010,0],[1385,0],[1390,0.05],[1395,0.20],[1400,0.45],[1403,0.60],[1406,0.63],[1410,0.50],[1414,0.30],
 [1418,0.15],[1423,0.06],[1430,0.02],[1450,0.02],[1470,0.03],[1480,0.05],[1485,0.13],[1490,0.28],
 [1494,0.34],[1498,0.30],[1504,0.32],[1510,0.40],[1516,0.52],[1522,0.68],[1528,0.85],[1534,1.02],
 [1539,1.15],[1544,1.19],[1549,1.15],[1554,1.05],[1558,0.85],[1562,0.60],[1566,0.42],[1572,0.25],
 [1580,0.13],[1590,0.08],[1600,0.06],[1614,0.12],[1624,0.17],[1634,0.19],[1644,0.18],[1654,0.17],
 [1664,0.14],[1674,0.10],[1684,0.06],[1700,0.03],[1720,0.02],[1750,0.01],[1800,0.01],[1830,0.03],
 [1845,0.10],[1855,0.17],[1865,0.25],[1875,0.31],[1882,0.42],[1886,0.63],[1890,0.45],[1895,0.40],
 [1900,0.38],[1910,0.37],[1920,0.36],[1930,0.33],[1945,0.28],[1960,0.20],[1975,0.13],[1990,0.08],
 [2005,0.03],[2020,0.01],[2100,0],[2770,0],[2778,0.02],[2784,0.15],[2788,0.38],[2792,0.52],[2796,0.48],
 [2800,0.30],[2804,0.12],[2808,0.02],[2815,0],[3254,0]
];
const fitNarrow = [
 [1010,0],[1375,0],[1380,0.06],[1384,0.30],[1388,0.60],[1392,0.85],[1395,0.88],[1398,0.75],[1401,0.56],
 [1404,0.30],[1408,0.10],[1413,0.02],[1420,0],[1450,0],[1470,0.01],[1490,0.03],[1510,0.04],[1525,0.06],
 [1534,0.13],[1539,0.49],[1543,1.00],[1546,1.26],[1549,1.15],[1552,0.80],[1556,0.56],[1560,0.25],
 [1564,0.06],[1570,0.02],[1600,0.03],[1620,0.06],[1640,0.08],[1660,0.06],[1680,0.03],[1700,0.01],
 [1850,0],[1880,0.05],[1890,0.20],[1897,0.28],[1902,0.60],[1905,0.91],[1909,0.82],[1913,0.77],
 [1917,0.50],[1920,0.20],[1925,0.03],[1935,0],[2700,0],[2740,0.03],[2760,0.08],[2775,0.14],[2785,0.18],
 [2793,0.20],[2800,0.19],[2810,0.14],[2825,0.08],[2840,0.04],[2870,0.01],[2900,0],[3254,0]
];
// narrow absorption features: [wavelength, depth]
const absorbers = [
 [1268,-0.18],[1311,-0.80],[1323,-0.92],[1445,-0.64],[1470,-0.50],[1744,-1.10],[1840,-0.72],
 [2030,-1.03],[2045,-0.75],[2072,-0.68],[2079,-0.55],[2361,-0.50],[2436,-0.40],[2502,-0.60],
 [2552,-0.68],[2582,-0.60],[2627,-0.82],[2657,-0.60],[2677,-0.65]
];
// flux uncertainty envelope
const errUpper = [
 [1010,0.20],[1016,0.10],[1040,0.08],[1100,0.09],[1150,0.08],[1210,0.07],[1260,0.05],[1400,0.05],
 [1600,0.04],[1800,0.05],[2000,0.05],[2100,0.06],[2300,0.05],[2420,0.06],[2440,0.14],[2520,0.15],
 [2600,0.13],[2680,0.08],[2720,0.04],[2900,0.04],[3100,0.05],[3200,0.06],[3254,0.12]
];
const errLower = [
 [1010,-0.15],[1016,-0.08],[1040,-0.07],[1100,-0.08],[1150,-0.07],[1210,-0.06],[1260,-0.05],[1400,-0.04],
 [1600,-0.04],[1800,-0.04],[2000,-0.05],[2100,-0.05],[2300,-0.04],[2420,-0.05],[2440,-0.12],[2520,-0.08],
 [2600,0.05],[2680,0.02],[2720,-0.03],[2900,-0.03],[3100,-0.04],[3200,-0.05],[3254,-0.10]
];
// telluric band edges (rest frame)
const tellurics = [2024, 2078, 2433, 2566, 3249];

// ---------------------------------------------------------------
const FONT = "'DejaVu Sans', 'Liberation Sans', sans-serif";
const PURPLE_TXT = '#8e2a96';
const CHART_W = 824;

const grids = [
  { left: 76, right: 2, top: 57,  height: 236, containLabel: false, outerBoundsMode: 'none' },
  { left: 76, right: 2, top: 293, height: 95,  containLabel: false, outerBoundsMode: 'none' },
  { left: 76, right: 2, top: 388, height: 236, containLabel: false, outerBoundsMode: 'none' }
];
// per-panel vertical range and tick layout (tick lengths in pixels)
const panels = [
  { yMin: 0,  yMax: 8,   yMajor: [0, 2, 4, 6, 8], yMinorStep: 0.5, labels: fluxTicks,
    fmt: v => String(v), margin: 5, xMaj: 7, xMin: 3.5, edgeAlign: true },
  { yMin: -1, yMax: 2.4, yMajor: [-1, -0.5, 0, 0.5, 1, 1.5, 2], yMinorStep: 0.1, labels: residTicks,
    fmt: v => minus(v.toFixed(1)), margin: 6, xMaj: 5, xMin: 2.5, edgeAlign: false },
  { yMin: -2, yMax: 3,   yMajor: lineTicks, yMinorStep: 0.1, labels: lineTicks,
    fmt: v => minus(v), margin: 15, xMaj: 7, xMin: 3.5, edgeAlign: true }
];
const Y_MAJOR_LEN = 15, Y_MINOR_LEN = 6, Y_RIGHT_LEN = 5;

function minus(v) { return String(v).replace('-', '\u2212'); }
function stepsBetween(a, b, step) {
  const out = [];
  const n = Math.floor((b - a) / step + 1e-9);
  for (let i = 0; i <= n; i++) out.push(Math.round((a + i * step) * 1000) / 1000);
  return out;
}
function isIn(list, v) { return list.some(r => Math.abs(r - v) < 1e-6); }

// two x axes (bottom / top) and two y axes (left / right) per panel
const xAxes = [], yAxes = [];
panels.forEach((p, g) => {
  const line = { show: true, onZero: false, lineStyle: { color: '#000', width: 1 } };
  xAxes.push({ type: 'value', gridIndex: g, min: X_MIN, max: X_MAX, position: 'bottom',
    axisLine: line, axisTick: { show: false }, splitLine: { show: false },
    axisLabel: g === 2 ? { show: true, customValues: xMajorTicks, formatter: v => String(v), margin: 7,
      color: '#000', fontFamily: FONT, fontSize: 14, showMinLabel: true, showMaxLabel: true } : { show: false } });
  xAxes.push({ type: 'value', gridIndex: g, min: X_MIN, max: X_MAX, position: 'top',
    axisLine: line, axisTick: { show: false }, splitLine: { show: false }, axisLabel: { show: false } });
  const lab = { show: true, customValues: p.labels, formatter: p.fmt, margin: p.margin, color: '#000',
    fontFamily: FONT, fontSize: 14, showMinLabel: true, showMaxLabel: true, hideOverlap: false };
  if (p.edgeAlign) { lab.verticalAlignMinLabel = 'bottom'; lab.verticalAlignMaxLabel = 'top'; }
  yAxes.push({ type: 'value', gridIndex: g, min: p.yMin, max: p.yMax, position: 'left',
    axisLine: line, axisTick: { show: false }, splitLine: { show: false }, axisLabel: lab });
  yAxes.push({ type: 'value', gridIndex: g, min: p.yMin, max: p.yMax, position: 'right',
    axisLine: line, axisTick: { show: false }, splitLine: { show: false }, axisLabel: { show: false } });
});

// inward tick marks on all four sides of a panel, as short segments in data space
function tickSegments(g) {
  const p = panels[g], gr = grids[g];
  const yPerPx = (p.yMax - p.yMin) / gr.height;
  const xPerPx = (X_MAX - X_MIN) / (CHART_W - gr.left - gr.right);
  const segs = [];
  xMajorTicks.map(v => [v, p.xMaj]).concat(xMinorTicks.map(v => [v, p.xMin])).forEach(([v, len]) => {
    segs.push({ coords: [[v, p.yMin], [v, p.yMin + len * yPerPx]] });
    segs.push({ coords: [[v, p.yMax], [v, p.yMax - len * yPerPx]] });
  });
  const minor = stepsBetween(p.yMin, p.yMax, p.yMinorStep).filter(v => !isIn(p.yMajor, v));
  p.yMajor.forEach(v => {
    segs.push({ coords: [[X_MIN, v], [X_MIN + Y_MAJOR_LEN * xPerPx, v]] });
    segs.push({ coords: [[X_MAX, v], [X_MAX - Y_RIGHT_LEN * xPerPx, v]] });
  });
  minor.forEach(v => segs.push({ coords: [[X_MIN, v], [X_MIN + Y_MINOR_LEN * xPerPx, v]] }));
  return segs;
}

function lineSeries(panel, data, color, width, extra) {
  return Object.assign({
    type: 'line', xAxisIndex: panel * 2, yAxisIndex: panel * 2, data: data,
    showSymbol: false, symbol: 'none', clip: true, animation: false, silent: true,
    lineStyle: { color: color, width: width }
  }, extra || {});
}

// black residual: only the parts inside the fitting windows
const inWindow = w => fitWindows.some(([a, b]) => w >= a && w <= b);
const residualInWindows = residual.map(([w, r]) => inWindow(w) ? [w, r] : [w, null]);

// absorption model: zero baseline with narrow dips
const absorptionModel = [[X_MIN, 0]];
absorbers.forEach(([w, d]) => { absorptionModel.push([w - 2, 0], [w, d], [w + 2, 0]); });
absorptionModel.push([X_MAX, 0]);

const zeroLine = [[X_MIN, 0], [X_MAX, 0]];

const ASTERISK = 'path://M9.3,0 L10.7,0 L10.7,20 L9.3,20 Z M0,9.3 L20,9.3 L20,10.7 L0,10.7 Z ' +
                 'M1.5,2.5 L2.5,1.5 L18.5,17.5 L17.5,18.5 Z M17.5,1.5 L18.5,2.5 L2.5,18.5 L1.5,17.5 Z';

const series = [
  // top panel
  lineSeries(0, fluxRaw, '#a9a9a9', 1),
  lineSeries(0, fluxSmooth, '#000000', 1.3),
  { type: 'scatter', xAxisIndex: 0, yAxisIndex: 0, data: windowFlux, symbol: ASTERISK, symbolSize: 11,
    itemStyle: { color: '#d2b48c' }, silent: true, animation: false, clip: true },
  lineSeries(0, galaxyCont, '#00ffff', 2.2),
  lineSeries(0, balmerCont, '#0000ff', 1.3),
  lineSeries(0, ironCont, '#ff0000', 1.2, { smooth: 0.4 }),
  lineSeries(0, powerLaw, '#a040f0', 1.2, { smooth: 0.4 }),
  lineSeries(0, combinedCont, '#00e000', 1.2, { smooth: 0.4 }),
  // residual panel
  lineSeries(1, residual, '#ff0000', 1.2),
  lineSeries(1, residualInWindows, '#000000', 1.2),
  lineSeries(1, zeroLine, '#0000ff', 1.3),
  // emission line panel
  lineSeries(2, lineRaw, '#b0b0b0', 1),
  lineSeries(2, errUpper, '#8fe08f', 1.5, { lineStyle: { color: '#8fe08f', width: 1.5, type: 'dotted' } }),
  lineSeries(2, errLower, '#8fe08f', 1.5, { lineStyle: { color: '#8fe08f', width: 1.5, type: 'dotted' } }),
  lineSeries(2, lineSmooth, '#000000', 1.3),
  lineSeries(2, absorptionModel, '#f0a000', 1.3),
  lineSeries(2, zeroLine, '#b5574b', 2.2, {
    markLine: { silent: true, symbol: 'none', animation: false, label: { show: false },
      lineStyle: { color: '#a8dce4', type: 'dotted', width: 1.5 },
      data: tellurics.map(v => ({ xAxis: v })) }
  }),
  lineSeries(2, fitBroad, '#0000ff', 1.2, { smooth: 0.3 }),
  lineSeries(2, fitNarrow, '#a52a2a', 1.1, { smooth: 0.3 }),
  lineSeries(2, fitTotal, '#ff00ff', 1.3, { smooth: 0.3 })
];
panels.forEach((p, g) => {
  series.push({ type: 'lines', coordinateSystem: 'cartesian2d', xAxisIndex: g * 2, yAxisIndex: g * 2,
    data: tickSegments(g), silent: true, animation: false, z: 5,
    lineStyle: { color: '#000000', width: 1, opacity: 1 } });
});

// ---- text and boxes ------------------------------------------------
function txt(x, y, text, size, color, align, extra) {
  return Object.assign({
    type: 'text', x: x, y: y, z: 100, silent: true,
    style: { text: text, font: size + 'px ' + FONT, fill: color || '#000',
             align: align || 'left', textAlign: align || 'left',
             verticalAlign: 'middle', textVerticalAlign: 'middle' }
  }, extra || {});
}

const legendItems = [
  ['Power law', '#a040f0'], ['Balmer lines', '#0000ff'], ['Iron', '#ff0000'],
  ['Galaxy', '#00ffff'], ['Combined', '#00e000']
];

const paramRows = [
  ['power law slope', '=', '\u22121.712+\u2212', '0.003'],
  ['power law ampl[2500A]', '=', '1.347+\u2212', '0.002'],
  ['Fe ampl', '=', '0.200+\u2212', '0.000'],
  ['Fe FUV ampl(scaling)', '=', '0.766+\u2212', '0.054'],
  ['Fe \u03c3 (HWHM)', '=', '8400+\u2212', '0 km/s'],
  ['Balmer ampl[Hbeta]', '=', '2.773+\u2212', '0.862'],
  ['Balmer HWHM =', '', '1196+\u2212', '6 km/s'],
  ['QSO \u03c4', '', '= 0.510+\u2212', '0.0621']
];
const paramCols = [
  [697, 707, 758], [696, 717, 767], [696, 717, 767], [686, 712, 755],
  [696, 708, 763], [695, 717, 770], [0, 662, 713], [0, 675, 727]
];

const graphics = [];
// header
graphics.push(txt(452, 17, 'combined_1033-0327', 18, '#000', 'center'));
graphics.push(txt(86, 42, '\u03c7', 18, PURPLE_TXT));
graphics.push(txt(97, 49, '\u03bd', 11, PURPLE_TXT));
graphics.push(txt(102, 33, '2', 11, PURPLE_TXT));
graphics.push(txt(123, 42, '=', 18, PURPLE_TXT));
graphics.push(txt(145, 42, '16.65', 18, PURPLE_TXT));
graphics.push(txt(250, 42, '1033-0327', 18));
graphics.push(txt(364, 42, ';', 18));
graphics.push(txt(400, 42, 'z = 4.531000', 18));
graphics.push(txt(539, 42, ';', 18));
graphics.push(txt(560, 42, 'nr', 18));
graphics.push(txt(650, 42, '6', 18));
graphics.push(txt(714, 42, '4.71= <\u03c7', 18, PURPLE_TXT));
graphics.push(txt(800, 33, '2', 11, PURPLE_TXT));
graphics.push(txt(807, 42, '>', 18, PURPLE_TXT));
// footer
graphics.push(txt(86, 660, '\u03c7', 18));
graphics.push(txt(97, 667, '\u03bd', 11));
graphics.push(txt(102, 651, '2', 11));
graphics.push(txt(123, 660, '=', 18));
graphics.push(txt(160, 660, '36.43', 18));
graphics.push(txt(456, 661, 'Rest wavelength (A)', 14, '#000', 'center'));
// axis titles
graphics.push(txt(45, 175, 'Flux', 14, '#000', 'center', { rotation: Math.PI / 2 }));
graphics.push(txt(19, 340, 'Residual', 14, '#000', 'center', { rotation: Math.PI / 2 }));
graphics.push(txt(33, 507, 'Emission line flux', 14, '#000', 'center', { rotation: Math.PI / 2 }));
// legend box
graphics.push({ type: 'rect', z: 99, silent: true, shape: { x: 705.5, y: 69.5, width: 116, height: 64 },
                style: { fill: '#ffffff', stroke: '#000', lineWidth: 1 } });
legendItems.forEach(([name, color], i) => {
  const y = 78 + i * 11.8;
  graphics.push(txt(777, y, name, 10, '#000', 'right'));
  graphics.push({ type: 'line', z: 100, silent: true, shape: { x1: 785, y1: y, x2: 816, y2: y },
                  style: { stroke: color, lineWidth: 2.5 } });
});
// fit-parameter box
graphics.push({ type: 'rect', z: 99, silent: true, shape: { x: 568.5, y: 393.5, width: 232, height: 88 },
                style: { fill: '#ffffff', stroke: '#000', lineWidth: 1 } });
paramRows.forEach((row, i) => {
  const y = 400.5 + i * 10.7;
  const c = paramCols[i];
  graphics.push(txt(576, y, '\u00b7', 9));
  graphics.push(txt(585, y, row[0], 9));
  if (row[1]) graphics.push(txt(c[0], y, row[1], 9));
  graphics.push(txt(c[1], y, row[2], 9));
  graphics.push(txt(c[2], y, row[3], 9));
});
// narrow-line width note in the residual panel
graphics.push(txt(628, 377, 'NL  FWHM:', 10));
graphics.push(txt(685, 377, '70+\u2212', 10));
graphics.push(txt(728, 377, '0 km/s', 10));

const chart = echarts.init(document.getElementById('chart'), null, { renderer: 'canvas' });
chart.setOption({
  animation: false,
  backgroundColor: '#ffffff',
  grid: grids,
  xAxis: xAxes,
  yAxis: yAxes,
  series: series,
  graphic: { elements: graphics }
});
</script>
</body>
</html>
